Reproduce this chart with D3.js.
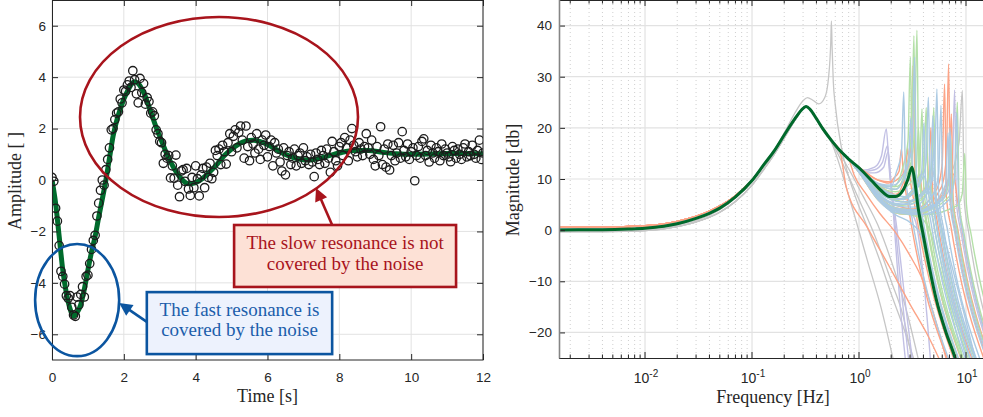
<!DOCTYPE html>
<html><head><meta charset="utf-8">
<script src="https://cdn.jsdelivr.net/npm/d3@7"></script>
<style>body{margin:0;background:#fff}svg{display:block}</style>
</head><body>
<svg id="c" width="983" height="417"></svg>
<script>
// ---------------- DATA: left panel (time domain) ----------------
const xTicksLeft = [0, 2, 4, 6, 8, 10, 12];
const yTicksLeft = [-6, -4, -2, 0, 2, 4, 6];
const sampleStep = 0.05; // s, measurement sampling period
const measY = [
 0.10,-0.05,-1.10,-1.60,-2.55,-3.55,-3.75,-4.05,-4.50,-4.60,
 -4.50,-4.95,-5.25,-5.30,-4.55,-4.85,-4.45,-4.15,-4.55,-3.75,
 -3.70,-3.25,-2.70,-2.35,-2.15,-1.40,-0.90,-0.40,0.00,-0.20,
 0.40,0.80,1.25,1.95,2.00,2.35,2.60,2.65,3.15,3.00,
 3.50,3.45,3.70,3.85,3.60,4.25,3.90,3.35,3.00,3.95,
 3.40,3.75,2.95,3.20,3.05,2.60,2.65,2.50,1.95,1.80,
 1.50,1.45,0.65,1.00,0.85,0.95,0.08,0.55,0.07,0.97,
 -0.20,-0.65,0.35,0.40,-0.05,0.45,-0.35,-0.60,0.10,-0.30,
 0.55,0.05,-0.62,0.20,0.45,-0.30,0.50,0.10,0.65,0.05,
 0.30,1.15,0.95,1.20,0.60,1.35,1.10,0.62,1.45,1.80,
 1.10,1.70,1.95,1.25,1.85,2.10,1.55,0.85,2.10,1.30,
 0.75,1.65,1.40,1.05,1.80,1.20,0.80,1.55,1.35,1.75,
 0.90,1.30,1.55,0.55,1.45,1.05,1.20,0.70,0.35,1.25,
 0.20,0.95,1.10,0.60,0.85,1.20,0.55,0.95,1.05,0.65,
 1.25,0.75,0.90,0.60,1.00,0.70,0.13,1.05,0.80,0.60,
 1.15,0.95,0.65,1.20,0.85,0.30,1.50,1.10,0.75,0.55,
 1.30,1.45,0.95,1.65,1.25,0.75,1.55,2.00,1.35,1.10,
 0.90,1.45,1.20,0.95,1.30,1.80,1.25,1.00,1.55,0.80,
 0.55,1.30,0.95,2.07,0.60,1.20,0.50,1.40,0.39,0.95,
 1.35,0.75,1.05,1.45,0.85,1.88,1.15,0.90,1.40,0.80,
 1.10,1.25,-0.03,0.95,1.30,0.85,1.50,1.60,0.95,1.15,
 0.70,1.35,1.05,0.85,1.25,1.10,0.75,1.40,0.95,1.20,
 1.05,0.90,0.71,1.30,1.15,0.85,1.20,1.00,0.80,1.25,
 1.40,0.90,1.10,0.95,1.35,1.00,0.85,1.15,1.55,0.80,
 1.05];
const fitT = [0,0.1,0.2,0.3,0.4,0.5,0.6,0.7,0.8,0.9,1.0,1.1,1.2,1.3,1.4,1.5,1.6,1.7,1.8,1.9,
 2.0,2.1,2.2,2.3,2.4,2.5,2.6,2.7,2.8,2.9,3.0,3.2,3.4,3.6,3.8,4.0,4.2,4.4,4.6,4.8,5.0,5.2,5.4,5.6,5.8,
 6.0,6.2,6.4,6.6,6.8,7.0,7.2,7.4,7.6,7.8,8.0,8.4,8.8,9.2,9.6,10,10.5,11,11.5,12];
const fitY = [0,-0.9,-2.2,-3.5,-4.4,-5.0,-5.3,-5.15,-4.85,-4.25,-3.5,-2.8,-2.2,-1.45,-0.75,0.0,0.85,1.7,2.3,2.75,
 3.15,3.45,3.7,3.82,3.75,3.55,3.25,2.85,2.45,2.05,1.7,1.0,0.45,0.05,-0.15,-0.1,0.07,0.33,0.62,0.95,1.2,1.4,1.52,1.55,1.49,
 1.38,1.22,1.06,0.94,0.84,0.79,0.78,0.82,0.9,0.98,1.05,1.15,1.15,1.08,1.02,1.0,1.01,1.03,1.03,1.02];

// ---------------- DATA: right panel (frequency domain) ----------------
const yTicksRight = [-20, -10, 0, 10, 20, 30, 40];
const decadeTicks = [0.01, 0.1, 1, 10];
const decadeExp = ["-2", "-1", "0", "1"];
// identified model (thick green): [Hz, dB]
const fitBode = [[0.00157,0.05],[0.004,0.08],[0.007,0.2],[0.01,0.35],[0.015,0.75],[0.02,1.25],[0.03,2.3],[0.04,3.3],
 [0.05,4.3],[0.07,6.5],[0.1,9.7],[0.13,12.9],[0.16,15.4],[0.2,18.6],[0.25,21.7],[0.29,23.5],[0.32,24.2],[0.35,23.6],
 [0.4,21.8],[0.46,19.8],[0.55,17.6],[0.66,15.6],[0.8,13.9],[1.0,12.2],[1.35,9.4],[1.6,7.8],[1.93,6.6],[2.2,6.6],
 [2.58,7.8],[2.85,9.8],[3.13,12.3],[3.3,10.0],[3.56,4.5],[3.96,-0.65],[4.5,-6.8],[5.28,-13.6],[6.5,-20.0],[7.83,-24.7],[8.3,-26.5]];
// common low-frequency part of the identified responses
const headMain = [[0.00157,0.15],[0.004,0.15],[0.007,0.25],[0.01,0.4],[0.015,0.8],[0.02,1.3],[0.03,2.35],[0.04,3.35],
 [0.05,4.35],[0.07,6.5],[0.1,9.7],[0.13,12.9],[0.16,15.4],[0.2,18.6],[0.25,21.7],[0.29,23.5],[0.32,24.2],[0.35,23.6],
 [0.4,21.8],[0.46,19.8],[0.55,17.6],[0.66,15.6],[0.8,13.9]];
const headHigh = [[0.00157,0.6],[0.004,0.6],[0.01,0.85],[0.02,1.7],[0.04,3.7],[0.07,6.7],[0.1,9.8],[0.13,12.9],
 [0.16,15.4],[0.2,18.6],[0.25,21.7],[0.29,23.5],[0.32,24.2],[0.35,23.6],[0.4,21.8],[0.46,19.8],[0.55,17.6],[0.66,15.6],[0.8,13.9]];
const headLow = [[0.00157,-0.3],[0.004,-0.3],[0.01,-0.1],[0.02,0.7],[0.03,1.6],[0.05,3.5],[0.07,5.6],[0.1,8.8],
 [0.13,12.0],[0.16,14.7],[0.2,18.0],[0.25,21.4],[0.29,23.4],[0.32,24.2],[0.35,23.6],[0.4,21.7],[0.46,19.6]];
// high-frequency parts of the individual responses
const greySpike = [[0.00157,-0.1],[0.004,-0.1],[0.01,0.2],[0.02,1.0],[0.05,4.0],[0.1,9.5],[0.16,15.5],[0.2,19.0],
 [0.25,22.8],[0.3,25.3],[0.33,25.9],[0.37,25.4],[0.42,24.7],[0.48,26],[0.52,30],[0.545,37],[0.552,40.9],[0.56,36],
 [0.575,29],[0.6,24.5],[0.685,16.2],[0.8,10.5],[0.95,5.85],[1.2,0.5],[1.56,-5.85],[2.0,-12.5],[2.6,-19],[3.4,-26.5]];
const greyTails = [
 [[0.55,17.2],[0.82,6],[1.2,-6],[1.6,-15],[2.15,-26.5]],
 [[0.55,17.3],[0.8,10.5],[1.0,6],[1.4,-1],[2.0,-10],[2.6,-17],[3.2,-26.5]],
 [[0.55,17.5],[0.8,12],[1.1,6.5],[1.5,1],[2.0,-6],[2.8,-16],[3.7,-26.5]],
 [[0.55,17.6],[0.8,13.6],[1.0,11.6],[1.5,7.0],[2.4,4],[4.0,4],[6.5,9],[8.6,17],[9.25,27.3],[9.62,6],[10.6,-0.5],[22,-26.5]]
];
const lavenderTails = [
 [[1.08,11.7],[1.4,12.3],[1.62,14.5],[1.8,19.8],[1.9,13],[2.1,3],[2.4,-13.6],[2.75,-26.5]],
 [[1.08,11.5],[1.4,11.8],[1.65,13.2],[1.85,16.5],[1.95,11],[2.2,0],[2.55,-14],[2.95,-26.5]],
 [[1.08,11.3],[1.4,11.2],[1.7,12.3],[1.87,15.3],[2.0,9],[2.3,-1],[2.7,-14],[3.2,-26.5]],
 [[1.0,11.4],[1.5,6.5],[2.3,4],[3.0,3.5],[3.4,1.5],[3.9,-7],[4.7,-26.5]],
 [[1.0,11.4],[1.5,6.3],[2.4,3.8],[3.6,3.5],[6.66,7.1],[7.44,11.9],[7.83,27.4],[8.14,5.5],[9.0,-0.5],[18.7,-26.5]]
];
const salmonTails = [
 [[1.0,12.3],[1.5,9.8],[1.9,9.2],[2.12,10.2],[2.37,11.5],[2.49,15.9],[2.59,11.2],[2.86,5.2],[7.1,-26.5]],
 [[1.0,12.1],[1.5,9.0],[2.2,7],[2.72,10.8],[3.04,15.8],[3.2,32.2],[3.33,9],[3.68,3],[8.5,-26.5]],
 [[1.0,11.5],[1.5,6.6],[2.4,4.2],[3.6,4],[5.85,8.3],[6.54,13.9],[6.88,32.5],[7.16,6],[7.91,0],[16.7,-26.5]],
 [[1.0,11.4],[1.5,6.3],[2.4,3.8],[3.4,4.2],[5.36,8.1],[5.99,12.9],[6.31,28.6],[6.56,6.5],[7.26,0.5],[15.5,-26.5]],
 [[1.0,11.6],[1.5,7.0],[2.4,4.6],[3.6,4],[6.2,6.8],[6.94,10.5],[7.3,22.7],[7.59,6],[8.4,0],[17.7,-26.5]],
 [[0.76,8.4],[1.2,0.5],[1.93,-7.2],[3.0,-14.5],[4.5,-21],[6.0,-26.5]],
 [[0.9,10.8],[1.17,7],[1.56,3.3],[2.2,-0.5],[3.0,-5],[3.94,-9.8],[5.0,-16.5],[6.8,-26.5]],
 [[1.0,12.3],[1.5,9.8],[2.0,9.4],[2.42,10.4],[2.71,11.7],[2.85,16],[2.96,11.4],[3.28,5.4],[8.1,-26.5]],
 [[1.0,11.3],[1.5,6.0],[2.4,3.2],[3.8,3.0],[5.0,5],[6.5,8],[7.6,11],[8.3,6],[9.2,0],[19,-26.5]],
 [[1.0,11.9],[1.5,7.8],[2.8,5.5],[4.0,7.7],[4.47,10.6],[4.7,20],[4.89,7.5],[5.41,1.5],[12,-26.5]],
 [[1.0,12.0],[1.5,8.6],[2.6,6],[3.2,7.5],[3.55,9],[3.7,11],[3.85,8],[4.25,2],[9.5,-26.5]]
];
const lightGreenTails = [
 [[1.0,12.1],[1.5,9.0],[2.2,8.5],[2.96,12.1],[3.31,19.5],[3.48,39.1],[3.62,10.5],[4.0,4.5],[9.6,-26.5]],
 [[1.0,12.0],[1.5,8.8],[2.2,8],[2.77,12.5],[3.1,18.5],[3.26,38],[3.39,10],[3.75,4],[8.9,-26.5]],
 [[1.0,12.1],[1.5,9.0],[2.1,8.5],[2.57,12.3],[2.87,17.4],[3.02,33.8],[3.14,10.5],[3.47,4.5],[8.4,-26.5]],
 [[1.0,11.8],[1.5,7.6],[2.5,6],[3.3,8.7],[3.69,12.2],[3.88,23.7],[4.04,8],[4.46,2],[10,-26.5]],
 [[1.0,11.4],[1.5,6.4],[2.4,3.8],[3.6,3.5],[7.06,6.7],[7.89,11],[8.3,25],[8.63,5.5],[9.55,-0.5],[20,-26.5]],
 [[1.0,11.3],[1.5,6.0],[2.4,3.2],[4.0,3],[8.27,4.8],[9.24,7.2],[9.73,15],[10.1,5],[11.2,-1],[23,-26.5]],
 [[1.0,11.7],[1.5,7.3],[2.9,5.5],[4.25,8.3],[4.75,12],[5.0,24],[5.2,7.5],[5.75,1.5],[12.7,-26.5]],
 [[1.0,11.4],[1.5,6.4],[2.3,3.6],[3.0,3.0],[3.8,2.3],[4.6,0],[5.5,-6],[9.7,-26.5]],
 [[1.0,11.9],[1.5,8.0],[2.7,6.5],[3.61,9.1],[4.04,12.6],[4.25,24],[4.42,8.5],[4.89,2.5],[11.1,-26.5]],
 [[1.0,11.5],[1.5,6.6],[2.4,4.2],[3.5,4],[6.12,6.1],[6.84,8.9],[7.2,18],[7.49,6],[8.28,0],[17.5,-26.5]],
 [[1.0,12.0],[1.5,8.6],[2.2,7.5],[3.06,9.4],[3.42,11.9],[3.6,20],[3.74,9.5],[4.14,3.5],[9.6,-26.5]],
 [[1.0,11.6],[1.5,7.0],[2.4,4.8],[3.9,6],[4.4,8],[4.6,12],[4.8,7],[5.3,1],[11.5,-26.5]]
];
const blueTails = [
 [[1.0,12.1],[1.5,9.2],[2.0,8.5],[2.23,11.3],[2.49,15],[2.62,27],[2.72,10.5],[3.01,4.5],[7.25,-26.5]],
 [[1.0,12.1],[1.5,9.0],[2.2,8],[2.81,11.9],[3.14,17],[3.31,33.8],[3.44,10],[3.81,4],[9.0,-26.5]],
 [[1.0,11.7],[1.5,7.2],[2.2,5.2],[3.0,5],[4.17,7.6],[4.66,11.1],[4.91,22.4],[5.11,7],[5.65,1],[12.3,-26.5]],
 [[1.0,11.6],[1.5,6.9],[2.2,4.8],[3.2,4.5],[4.55,8],[5.08,12.6],[5.35,27.6],[5.56,6.5],[6.15,0.5],[13.2,-26.5]],
 [[1.0,11.5],[1.5,6.6],[2.2,4.3],[3.4,4],[4.96,7.1],[5.55,11.1],[5.84,24.4],[6.07,6],[6.72,0],[14.2,-26.5]],
 [[1.0,11.4],[1.5,6.3],[2.2,3.8],[3.5,3.5],[6.04,6],[6.75,9.3],[7.1,20],[7.38,5.5],[8.17,-0.5],[17,-26.5]],
 [[1.0,11.3],[1.5,6.0],[2.2,3.0],[3.0,1.5],[3.8,-1],[4.5,-6],[5.5,-13],[7.0,-21],[8.0,-26.5]],
 [[1.0,12.0],[1.5,8.4],[2.6,6],[3.44,8.3],[3.85,11.3],[4.05,21],[4.21,8],[4.66,2],[10.4,-26.5]],
 [[1.0,12.0],[1.5,8.5],[2.8,6.5],[3.78,9.4],[4.23,13.3],[4.45,26],[4.63,8.5],[5.12,2.5],[11.6,-26.5]],
 [[1.0,11.4],[1.5,6.2],[2.2,3.5],[3.8,3],[6.97,6],[7.79,10],[8.2,23],[8.53,5],[9.43,-1],[19,-26.5]],
 [[1.0,12.1],[1.5,9.1],[2.1,8.8],[2.59,10.8],[2.9,13.4],[3.05,22],[3.17,10.8],[3.51,4.8],[8.5,-26.5]],
 [[1.0,11.5],[1.5,6.5],[2.2,4.0],[3.6,3.8],[5.78,6.1],[6.46,9.1],[6.8,19],[7.07,5.8],[7.82,-0.2],[16.4,-26.5]],
 [[1.0,11.4],[1.5,6.3],[2.4,3.6],[3.5,3.2],[4.4,4.5],[5.0,5],[5.5,3],[6.2,-1],[12.7,-26.5]],
 [[1.0,11.6],[1.5,7.0],[2.4,5],[3.4,6],[4.3,8],[4.8,6],[5.3,1],[11.4,-26.5]],
 [[1.0,12.0],[1.5,8.2],[2.3,6],[3.2,8],[3.9,11],[4.3,9],[4.8,3],[10.6,-26.5]],
 [[1.0,11.8],[1.5,7.6],[2.5,5.5],[4.25,7.5],[4.75,9.5],[5.0,16],[5.2,8],[5.75,2],[12.9,-26.5]]
];

// ---------------- DRAWING ----------------
const svg = d3.select('#c');
const axisCol = '#262626';
const gridCol = '#e2e2e2';
const tickFont = '"Liberation Sans", Arial, sans-serif';
const serif = '"Liberation Serif", "Times New Roman", serif';
const defs = svg.append('defs');

// ===== Left panel =====
const xL = d3.scaleLinear().domain([0, 12]).range([52, 483]);
const yL = d3.scaleLinear().domain([-7, 7]).range([360, 0]);
defs.append('clipPath').attr('id','clipL').append('rect')
  .attr('x',52).attr('y',0).attr('width',431).attr('height',360);
const gL = svg.append('g');
gL.selectAll('.gxL').data(xTicksLeft).join('line')
  .attr('x1',d=>xL(d)).attr('x2',d=>xL(d)).attr('y1',0).attr('y2',360)
  .attr('stroke',gridCol).attr('stroke-width',1);
gL.selectAll('.gyL').data(yTicksLeft).join('line')
  .attr('x1',52).attr('x2',483).attr('y1',d=>yL(d)).attr('y2',d=>yL(d))
  .attr('stroke',gridCol).attr('stroke-width',1);

const plotL = gL.append('g').attr('clip-path','url(#clipL)');
const fitLine = d3.line().x((d,i)=>xL(fitT[i])).y(d=>yL(d)).curve(d3.curveMonotoneX);
plotL.append('path').attr('d', fitLine(fitY)).attr('fill','none')
  .attr('stroke','#006b2c').attr('stroke-width',5).attr('stroke-linejoin','round');
plotL.selectAll('circle.m').data(measY).join('circle')
  .attr('cx',(d,i)=>xL(i*sampleStep)).attr('cy',d=>yL(d)).attr('r',4.2)
  .attr('fill','none').attr('stroke','#1c1c1c').attr('stroke-width',1.3);

// axes left
const axL = gL.append('g');
axL.append('g').attr('transform','translate(0,360)')
  .call(d3.axisBottom(xL).tickValues(xTicksLeft).tickSize(-6).tickSizeOuter(0).tickPadding(12.5))
  .call(g=>{g.select('.domain').remove();});
axL.append('g').attr('transform','translate(0,0)')
  .call(d3.axisTop(xL).tickValues(xTicksLeft).tickSize(-6).tickSizeOuter(0).tickFormat(''))
  .call(g=>{g.select('.domain').remove();});
axL.append('g').attr('transform','translate(52,0)')
  .call(d3.axisLeft(yL).tickValues(yTicksLeft).tickSize(-6).tickSizeOuter(0).tickPadding(6))
  .call(g=>{g.select('.domain').remove();});
axL.append('g').attr('transform','translate(483,0)')
  .call(d3.axisRight(yL).tickValues(yTicksLeft).tickSize(-6).tickSizeOuter(0).tickFormat(''))
  .call(g=>{g.select('.domain').remove();});
axL.selectAll('.tick line').attr('stroke',axisCol);
axL.selectAll('.tick text').attr('fill',axisCol).style('font-family',tickFont).style('font-size','13.5px');
axL.append('rect').attr('x',52.5).attr('y',0.5).attr('width',430.5).attr('height',359.5)
  .attr('fill','none').attr('stroke',axisCol).attr('stroke-width',1);

svg.append('text').attr('x',267.5).attr('y',402).attr('text-anchor','middle')
  .style('font-family',serif).style('font-size','18px').attr('fill',axisCol).text('Time [s]');
svg.append('text').attr('transform','translate(21,181) rotate(-90)').attr('text-anchor','middle')
  .style('font-family',serif).style('font-size','18px').attr('fill',axisCol).text('Amplitude [ ]');

// annotations
function arrow(g, x1, y1, x2, y2, col){
  const dx=x2-x1, dy=y2-y1, L=Math.hypot(dx,dy), ux=dx/L, uy=dy/L;
  const hl=13, hw=6.5;
  const bx=x2-ux*hl, by=y2-uy*hl;
  g.append('line').attr('x1',x1).attr('y1',y1).attr('x2',bx+ux*2).attr('y2',by+uy*2)
    .attr('stroke',col).attr('stroke-width',2.6);
  g.append('path').attr('d',`M${x2},${y2}L${bx-uy*hw},${by+ux*hw}L${bx+uy*hw},${by-ux*hw}Z`)
    .attr('fill',col);
}
const red='#a8141c', redFill='#fde1d6', blue='#0b55a0', blueFill='#edf2fd', blueText='#1c5eab';
const gA = svg.append('g');
// red
gA.append('ellipse').attr('cx',xL(4.65)).attr('cy',yL(2.45))
  .attr('rx',xL(4.65+3.87)-xL(4.65)).attr('ry',yL(2.45-3.89)-yL(2.45))
  .attr('fill','none').attr('stroke',red).attr('stroke-width',2.6);
arrow(gA, xL(7.8), yL(-1.75), xL(7.35), yL(-0.31), red);
gA.append('rect').attr('x',xL(5.07)).attr('y',yL(-1.75)).attr('width',xL(11.25)-xL(5.07)).attr('height',yL(-4.16)-yL(-1.75))
  .attr('fill',redFill).attr('stroke',red).attr('stroke-width',2.6);
const rcx=(xL(5.07)+xL(11.25))/2, rty=yL(-1.75);
gA.append('text').attr('x',rcx).attr('y',rty+24).attr('text-anchor','middle').attr('fill',red)
  .style('font-family',serif).style('font-size','19px').text('The slow resonance is not');
gA.append('text').attr('x',rcx).attr('y',rty+44.5).attr('text-anchor','middle').attr('fill',red)
  .style('font-family',serif).style('font-size','19px').text('covered by the noise');
// blue
gA.append('ellipse').attr('cx',xL(0.70)).attr('cy',yL(-4.67))
  .attr('rx',xL(0.70+1.17)-xL(0.70)).attr('ry',yL(-4.67-2.18)-yL(-4.67))
  .attr('fill','none').attr('stroke',blue).attr('stroke-width',2.6);
arrow(gA, xL(2.64), yL(-5.52), xL(1.87), yL(-4.78), blue);
gA.append('rect').attr('x',xL(2.64)).attr('y',yL(-4.36)).attr('width',xL(7.8)-xL(2.64)).attr('height',yL(-6.77)-yL(-4.36))
  .attr('fill',blueFill).attr('stroke',blue).attr('stroke-width',2.6);
const bcx=(xL(2.64)+xL(7.8))/2, bty=yL(-4.36);
gA.append('text').attr('x',bcx).attr('y',bty+23.5).attr('text-anchor','middle').attr('fill',blueText)
  .style('font-family',serif).style('font-size','19px').text('The fast resonance is');
gA.append('text').attr('x',bcx).attr('y',bty+44).attr('text-anchor','middle').attr('fill',blueText)
  .style('font-family',serif).style('font-size','19px').text('covered by the noise');

// ===== Right panel =====
const xR = d3.scaleLog().domain([Math.pow(10,-2.804), Math.pow(10,1.2)]).range([559, 987.4]);
const yR = d3.scaleLinear().domain([-25, 45]).range([358, 0]);
defs.append('clipPath').attr('id','clipR').append('rect')
  .attr('x',559).attr('y',0).attr('width',430).attr('height',358);
const gR = svg.append('g');
const minorF = [];
[0.001,0.01,0.1,1,10].forEach(d=>{ for(let m=2;m<=9;m++){ const f=m*d; if(f>xR.domain()[0] && f<xR.domain()[1]) minorF.push(f);} });
gR.selectAll('.mg').data(minorF).join('line')
  .attr('x1',d=>xR(d)).attr('x2',d=>xR(d)).attr('y1',0).attr('y2',358)
  .attr('stroke','#cfcfcf').attr('stroke-width',1).attr('stroke-dasharray','1,3');
gR.selectAll('.Mg').data(decadeTicks).join('line')
  .attr('x1',d=>xR(d)).attr('x2',d=>xR(d)).attr('y1',0).attr('y2',358)
  .attr('stroke',gridCol).attr('stroke-width',1.2);
gR.selectAll('.yg').data(yTicksRight).join('line')
  .attr('x1',559).attr('x2',990).attr('y1',d=>yR(d)).attr('y2',d=>yR(d))
  .attr('stroke',gridCol).attr('stroke-width',1.2);

const plotR = gR.append('g').attr('clip-path','url(#clipR)');
const lineR = d3.line().x(d=>xR(d[0])).y(d=>yR(d[1])).curve(d3.curveMonotoneX);
function join(head, tail){ return head.filter(p=>p[0] < tail[0][0]).concat(tail); }
function drawGroup(arr, head, col, w){
  arr.forEach(t=>{
    plotR.append('path').attr('d', lineR(join(head,t))).attr('fill','none')
      .attr('stroke',col).attr('stroke-width',w).attr('stroke-linejoin','round');
  });
}
plotR.append('path').attr('d', lineR(greySpike)).attr('fill','none').attr('stroke','#c6c6c6').attr('stroke-width',1.3);
drawGroup(greyTails, headLow, '#c6c6c6', 1.3);
drawGroup(lavenderTails, headMain, '#c2c0e4', 1.4);
drawGroup(salmonTails, headHigh, '#fca487', 1.4);
drawGroup(lightGreenTails, headMain, '#b4e0a8', 1.4);
drawGroup(blueTails, headMain, '#abcae3', 1.4);
plotR.append('path').attr('d', lineR(fitBode)).attr('fill','none')
  .attr('stroke','#00692b').attr('stroke-width',3).attr('stroke-linejoin','round');

// axes right
const axR = gR.append('g');
function xTicks(y, dir){
  axR.selectAll(null).data(decadeTicks).join('line')
    .attr('x1',d=>xR(d)).attr('x2',d=>xR(d)).attr('y1',y).attr('y2',y+dir*6).attr('stroke',axisCol);
  axR.selectAll(null).data(minorF).join('line')
    .attr('x1',d=>xR(d)).attr('x2',d=>xR(d)).attr('y1',y).attr('y2',y+dir*3.5).attr('stroke',axisCol);
}
xTicks(358, -1); xTicks(0, 1);
axR.append('line').attr('x1',559).attr('x2',990).attr('y1',358.5).attr('y2',358.5).attr('stroke',axisCol);
axR.append('line').attr('x1',559).attr('x2',990).attr('y1',0.5).attr('y2',0.5).attr('stroke',axisCol);
axR.append('g').attr('transform','translate(559,0)')
  .call(d3.axisLeft(yR).tickValues(yTicksRight).tickSize(-6).tickSizeOuter(0).tickPadding(7))
  .call(g=>{g.select('.domain').remove();})
  .call(g=>{g.selectAll('.tick line').attr('stroke',axisCol);
            g.selectAll('.tick text').attr('fill',axisCol).style('font-family',tickFont).style('font-size','13.5px');});
axR.append('line').attr('x1',559.5).attr('x2',559.5).attr('y1',0).attr('y2',358.5)
  .attr('stroke','#858585').attr('stroke-width',1.6);
const lab = axR.selectAll('.xl').data(decadeTicks).join('text')
  .attr('x',d=>xR(d)+1).attr('y',383).attr('text-anchor','middle').attr('fill',axisCol)
  .style('font-family',tickFont).style('font-size','14px');
lab.append('tspan').text('10');
lab.append('tspan').attr('dy',-6).style('font-size','10px').text((d,i)=>decadeExp[i]);

svg.append('text').attr('x',773).attr('y',403).attr('text-anchor','middle')
  .style('font-family',serif).style('font-size','18px').attr('fill',axisCol).text('Frequency [Hz]');
svg.append('text').attr('transform','translate(519,180) rotate(-90)').attr('text-anchor','middle')
  .style('font-family',serif).style('font-size','18px').attr('fill',axisCol).text('Magnitude [db]');
</script>
</body></html>
